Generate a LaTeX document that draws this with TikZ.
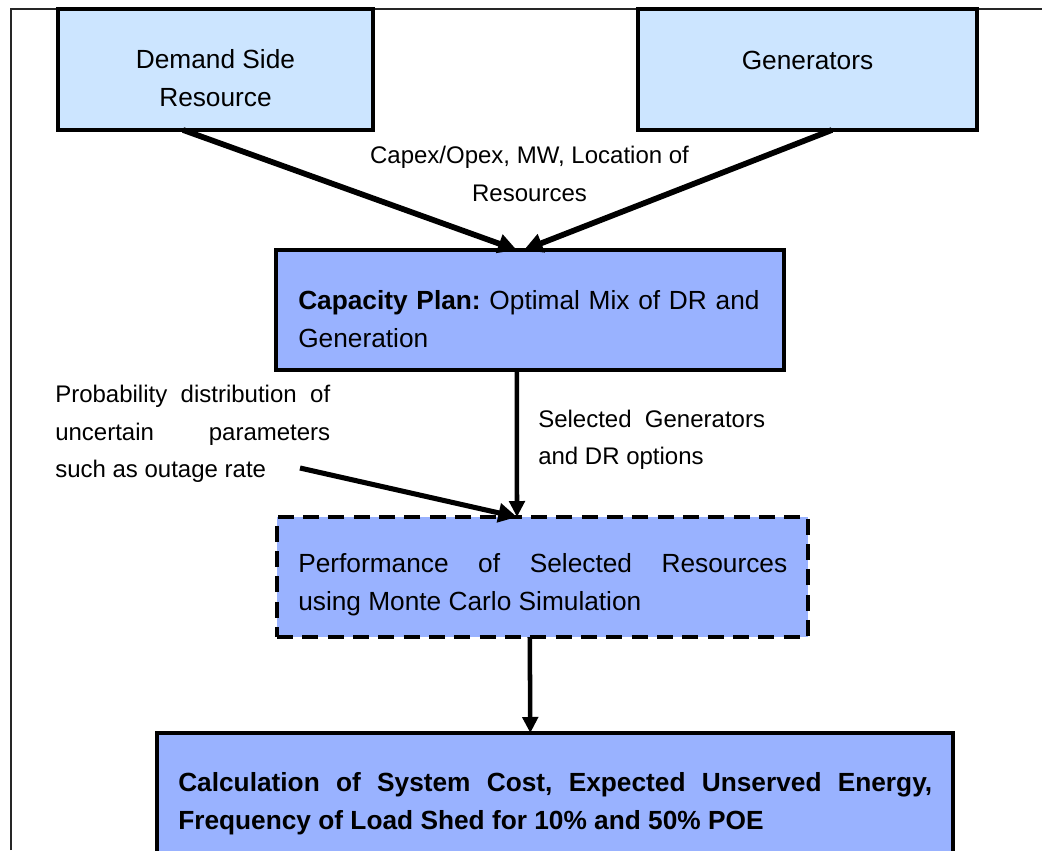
\documentclass[tikz,border=0pt]{standalone}
\usepackage{fontspec}
\setmainfont{Liberation Sans}
\usetikzlibrary{arrows.meta,calc}
\definecolor{paleblue}{RGB}{204,229,255}
\definecolor{midblue}{RGB}{153,178,255}
\frenchspacing
\begin{document}
\begin{tikzpicture}[x=0.75pt,y=-0.75pt,
  box/.style={draw=black,line width=2.3pt,inner sep=0pt,outer sep=0pt},
  srcbox/.style={box,fill=paleblue},
  stagebox/.style={box,fill=midblue},
  boxtext/.style={inner sep=0pt,font=\fontsize{19.7}{28.5}\selectfont},
  note/.style={inner sep=0pt,font=\fontsize{18}{28}\selectfont},
  flow/.style={line width=4.3pt,-{Triangle[length=14pt,width=14pt]}},
  downflow/.style={line width=3.4pt,-{Triangle[length=12pt,width=11.5pt]}}
]
\clip (0,0) rectangle (1042,850);

% page frame
\draw[line width=0.9pt,black!85] (11,850) -- (11,9) -- (1042,9);

% input resources
\node[srcbox,minimum width=236.25pt,minimum height=90.75pt] (dsr) at (215.5,69.5) {};
\node[srcbox,minimum width=254.25pt,minimum height=90.75pt] (gen) at (807.5,69.5) {};
\node[boxtext,align=center] (dsrtext) at (215.5,78.5) {Demand Side\\Resource};
\node[boxtext] (gentext) at (807.5,60) {Generators};

% planning and simulation stages
\node[stagebox,minimum width=381pt,minimum height=90pt] (cap) at (530,310) {};
\node[stagebox,line width=2.6pt,dash pattern=on 12pt off 7pt,minimum width=398.25pt,minimum height=90pt] (perf) at (542.5,577) {};
\node[stagebox,minimum width=597pt,minimum height=125.25pt] (calc) at (555,816.5) {};

\node[boxtext,anchor=west,text width=360pt,align=left] (captext) at (298,319)
  {\textbf{Capacity Plan:} Optimal Mix of DR and\\Generation};
\node[boxtext,anchor=west,text width=366.75pt,align=justify] (perftext) at (298,585)
  {Performance\hfill of\hfill Selected\hfill Resources\\using Monte Carlo Simulation};
\node[boxtext,font=\fontsize{19.7}{28.5}\selectfont\bfseries,anchor=west,text width=565.5pt,align=justify] (calctext) at (178,804)
  {Calculation\hfill of\hfill System\hfill Cost,\hfill Expected\hfill Unserved\hfill Energy,\\Frequency of Load Shed for 10\% and 50\% POE};

% annotations
\node[note,align=center] (capexnote) at (529.5,174) {Capex/Opex, MW, Location of\\Resources};
\node[note,anchor=west,align=left] (selnote) at (538,440) {Selected\ \ Generators\\and DR options};
\node[note,anchor=west,text width=206.25pt,align=justify] (probnote) at (55,434)
  {Probability\hfill distribution\hfill of\\uncertain\hfill parameters\\such as outage rate};

% connectors
\coordinate (probtail) at (300,468);
\draw[flow] ($(dsr.south west)!0.397!(dsr.south east)$) -- ($(cap.north west)!0.474!(cap.north east)$);
\draw[flow] ($(gen.south west)!0.572!(gen.south east)$) -- ($(cap.north west)!0.488!(cap.north east)$);
\draw[downflow] ($(cap.south west)!0.474!(cap.south east)$) -- ($(perf.north west)!0.452!(perf.north east)$);
\draw[flow,line width=3.8pt] (probtail) -- ($(perf.north west)!0.452!(perf.north east)$);
\draw[downflow] ($(perf.south west)!0.476!(perf.south east)$) -- ($(calc.north west)!0.469!(calc.north east)$);
\end{tikzpicture}
\end{document}
